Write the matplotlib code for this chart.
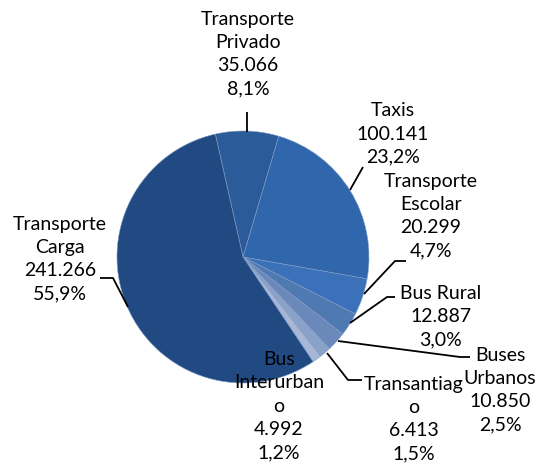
import matplotlib
matplotlib.use("Agg")
import matplotlib.pyplot as plt

plt.rcParams['font.family'] = ['Lato', 'DejaVu Sans']

# datos (vehiculos)
categorias = ['Transporte\nPrivado', 'Taxis', 'Transporte\nEscolar', 'Bus Rural',
              'Buses\nUrbanos', 'Transantiag\no', 'Bus\nInterurban\no',
              'Transporte\nCarga']
valores = [35066, 100141, 20299, 12887, 10850, 6413, 4992, 241266]
colores = ['#2c5b99', '#3066ab', '#3a71b9', '#4f79b1', '#6a88b9', '#8aa1c8',
           '#a7b7d5', '#224a82']

H = 469
cx, cy, r = 243, H - 257, 126

fig = plt.figure(figsize=(5.38, 4.69), dpi=100)
ax = fig.add_axes([0, 0, 1, 1])

ax.pie(valores, colors=colores, startangle=102.7, counterclock=False,
       center=(cx, cy), radius=r, frame=True,
       wedgeprops=dict(linewidth=0.4, edgecolor='#7f9cc6'))
ax.set_xlim(0, 538)
ax.set_ylim(0, H)
ax.set_aspect('equal')
ax.axis('off')

total = sum(valores)

def fmt(v):
    return f"{v:,}".replace(',', '.')

def pct(v):
    return f"{100 * v / total:.1f}%".replace('.', ',')

# posicion de las etiquetas (pixeles desde arriba)
pos_etq = [(248, 54), (393, 134), (431, 216), (441, 317),
           (500, 390), (414, 419), (279, 406), (60, 259)]

for cat, v, (x, y) in zip(categorias, valores, pos_etq):
    ax.text(x, H - y, f"{cat}\n{fmt(v)}\n{pct(v)}", ha='center', va='center',
            fontsize=14, linespacing=1.45, color='black')

# lineas guia
guias = [
    [(247, 112), (247, 132)],
    [(363, 167), (350, 190)],
    [(406, 261), (395, 261), (364, 294)],
    [(395, 297), (387, 297), (350, 323)],
    [(470, 357), (460, 357), (338, 341)],
    [(362, 380), (348, 380), (327, 353)],
    [(100, 278), (113, 278), (128, 307)],
]
for g in guias:
    xs = [p[0] for p in g]
    ys = [H - p[1] for p in g]
    ax.plot(xs, ys, color='black', linewidth=1.3, solid_capstyle='butt')

fig.savefig('out.png', dpi=100)
